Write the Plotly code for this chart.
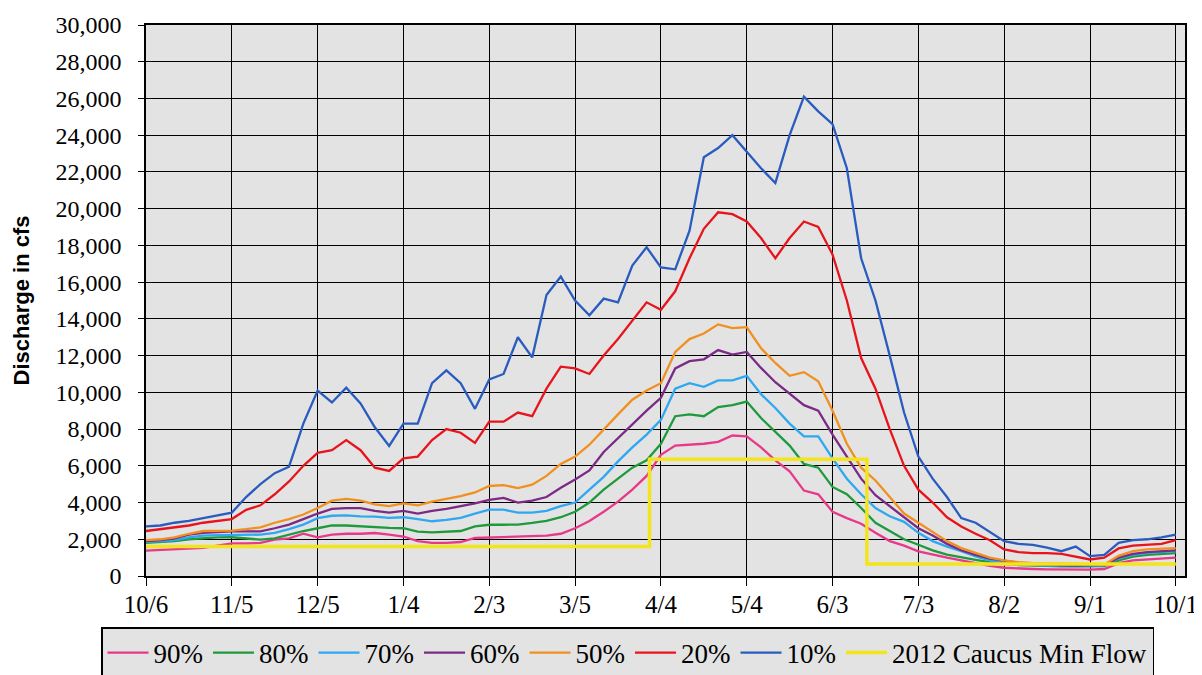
import pandas as pd
import plotly.graph_objects as go

# ---- data (values every 5 days starting 10/6) ----
dates = pd.date_range("2010-10-06", periods=73, freq="5D")

p90 = [1380, 1420, 1450, 1500, 1530, 1650, 1780, 1780, 1800, 1980, 2050, 2300, 2100, 2250, 2300,
       2300, 2340, 2250, 2150, 1900, 1800, 1800, 1850, 2070, 2100, 2100, 2120, 2150, 2200, 2300,
       2600, 3000, 3500, 4050, 4700, 5450, 6600, 7100, 7150, 7200, 7300, 7650, 7600, 7000, 6300,
       5700, 4650, 4450, 3500, 3150, 2850, 2350, 1900, 1650, 1340, 1150, 1000, 850, 680, 550,
       450, 400, 380, 360, 350, 350, 350, 380, 700, 850, 900, 950, 1000]

p80 = [1800, 1850, 1900, 2000, 2070, 2100, 2110, 2050, 1980, 2050, 2250, 2450, 2600, 2750, 2750,
       2700, 2650, 2620, 2600, 2420, 2380, 2420, 2450, 2700, 2790, 2790, 2800, 2890, 3000, 3200,
       3500, 4000, 4700, 5300, 5900, 6300, 7200, 8700, 8800, 8700, 9200, 9300, 9500, 8600, 7850,
       7100, 6100, 5900, 4850, 4450, 3700, 2900, 2450, 2000, 1700, 1400, 1160, 1000, 880, 750,
       650, 600, 560, 530, 520, 520, 520, 540, 850, 1050, 1150, 1200, 1250]

p70 = [1850, 1900, 1950, 2100, 2200, 2230, 2250, 2250, 2250, 2350, 2550, 2800, 3150, 3280, 3300,
       3250, 3230, 3160, 3200, 3100, 2980, 3050, 3160, 3400, 3610, 3610, 3450, 3450, 3550, 3800,
       4000, 4700, 5400, 6240, 7000, 7700, 8500, 10200, 10500, 10300, 10650, 10650, 10900, 9900, 9150,
       8300, 7600, 7600, 6400, 5300, 4450, 3700, 3250, 2950, 2350, 1900, 1600, 1350, 1070, 850,
       720, 650, 600, 570, 550, 530, 540, 580, 950, 1150, 1250, 1300, 1350]

p60 = [1900, 1950, 2050, 2250, 2350, 2400, 2430, 2430, 2430, 2600, 2800, 3100, 3400, 3650, 3700,
       3700, 3550, 3450, 3550, 3400, 3550, 3650, 3800, 3950, 4150, 4250, 4000, 4100, 4300, 4800,
       5250, 5750, 6750, 7500, 8300, 9000, 9700, 11300, 11700, 11800, 12300, 12050, 12200, 11330, 10550,
       9950, 9300, 9000, 7700, 6500, 5300, 4400, 3800, 3200, 2600, 2200, 1750, 1400, 1150, 950,
       820, 720, 650, 600, 580, 560, 560, 600, 1000, 1200, 1300, 1350, 1400]

p50 = [1950, 2000, 2100, 2300, 2450, 2450, 2470, 2550, 2650, 2900, 3100, 3350, 3700, 4100, 4200,
       4100, 3900, 3800, 3950, 3850, 4050, 4200, 4350, 4550, 4900, 4950, 4790, 4970, 5450, 6100,
       6500, 7150, 8000, 8800, 9600, 10100, 10500, 12200, 12900, 13200, 13700, 13500, 13550, 12400, 11600,
       10900, 11100, 10600, 9000, 7200, 5900, 5200, 4300, 3400, 2900, 2400, 1900, 1520, 1250, 1000,
       850, 750, 700, 680, 650, 650, 620, 630, 1100, 1350, 1450, 1480, 1520]

p20 = [2450, 2550, 2650, 2750, 2900, 3000, 3100, 3600, 3850, 4450, 5150, 6000, 6700, 6850, 7400,
       6850, 5900, 5720, 6400, 6500, 7400, 8000, 7800, 7250, 8400, 8400, 8900, 8700, 10200, 11400,
       11300, 11000, 12000, 12900, 13900, 14900, 14500, 15500, 17300, 18900, 19800, 19700, 19300, 18400, 17300,
       18400, 19300, 19000, 17500, 15000, 11870, 10200, 8000, 6000, 4700, 4000, 3200, 2700, 2300, 1950,
       1450, 1300, 1250, 1250, 1200, 1050, 900, 1000, 1500, 1650, 1700, 1750, 1950]

p10 = [2700, 2750, 2900, 3000, 3150, 3300, 3450, 4300, 5000, 5600, 5950, 8300, 10100, 9450, 10250,
       9400, 8100, 7080, 8300, 8300, 10500, 11200, 10500, 9100, 10700, 11000, 13000, 11900, 15300, 16300,
       15000, 14200, 15100, 14900, 16900, 17900, 16800, 16700, 18800, 22800, 23300, 24000, 23100, 22200, 21400,
       24000, 26100, 25300, 24600, 22200, 17300, 15000, 12000, 8900, 6500, 5300, 4300, 3150, 2900, 2400,
       1900, 1750, 1700, 1550, 1350, 1600, 1080, 1150, 1800, 1950, 2000, 2100, 2250]

caucus_dates = ["2010-10-06", "2011-03-31", "2011-06-15", "2011-10-01"]
caucus_vals = [1600, 6350, 650, 650]

series_names = ["90%", "80%", "70%", "60%", "50%", "20%", "10%"]
series_vals = [p90, p80, p70, p60, p50, p20, p10]
series_colors = ["#e8388a", "#1e9a3c", "#2ea8f0", "#7b2a86", "#f0901e", "#e8141c", "#2a5cbf"]

fig = go.Figure()
for name, vals, col in zip(series_names, series_vals, series_colors):
    fig.add_trace(go.Scatter(x=dates, y=vals, name=name, mode="lines",
                             line=dict(color=col, width=2.3)))
fig.add_trace(go.Scatter(x=caucus_dates, y=caucus_vals, name="2012 Caucus Min Flow",
                         mode="lines", line=dict(color="#f4e41c", width=3.5, shape="hv")))

serif = "Liberation Serif, Times New Roman, serif"
fig.update_layout(
    width=1202, height=675,
    margin=dict(l=138, r=25, t=17, b=107, autoexpand=False),
    font=dict(family=serif, color="black"),
    paper_bgcolor="white",
    plot_bgcolor="#e3e3e3",
    showlegend=True,
    legend=dict(orientation="h", x=-0.0433, xanchor="left", y=-0.187, yanchor="bottom",
                bgcolor="#e3e3e3", bordercolor="black", borderwidth=1.5,
                font=dict(family=serif, size=27, color="black"),
                itemwidth=41, tracegroupgap=0),
    xaxis=dict(type="date", range=["2010-10-06", "2011-10-04 05:00"],
               tick0="2010-10-06", dtick=30 * 86400000, tickformat="%-m/%-d",
               showgrid=True, gridcolor="black", gridwidth=1.3,
               showline=True, linecolor="black", linewidth=1.5, mirror=True,
               ticks="outside", ticklen=8, tickcolor="black", tickwidth=1.3,
               tickfont=dict(family="Liberation Serif", size=25, color="black"),
               ticklabelstandoff=-3),
    yaxis=dict(range=[0, 30000], dtick=2000, tickformat=",d",
               showgrid=True, gridcolor="black", gridwidth=1.3,
               showline=True, linecolor="black", linewidth=1.5, mirror=True,
               ticks="outside", ticklen=6, tickcolor="black", tickwidth=1.3,
               tickfont=dict(family="Liberation Serif", size=24, color="black"),
               ticklabelstandoff=12,
               title=dict(text="Discharge in cfs", standoff=20,
                          font=dict(family="Liberation Sans", size=22,
                                    color="black", weight="bold")),
               zeroline=False),
)

fig.write_html("out.html")
